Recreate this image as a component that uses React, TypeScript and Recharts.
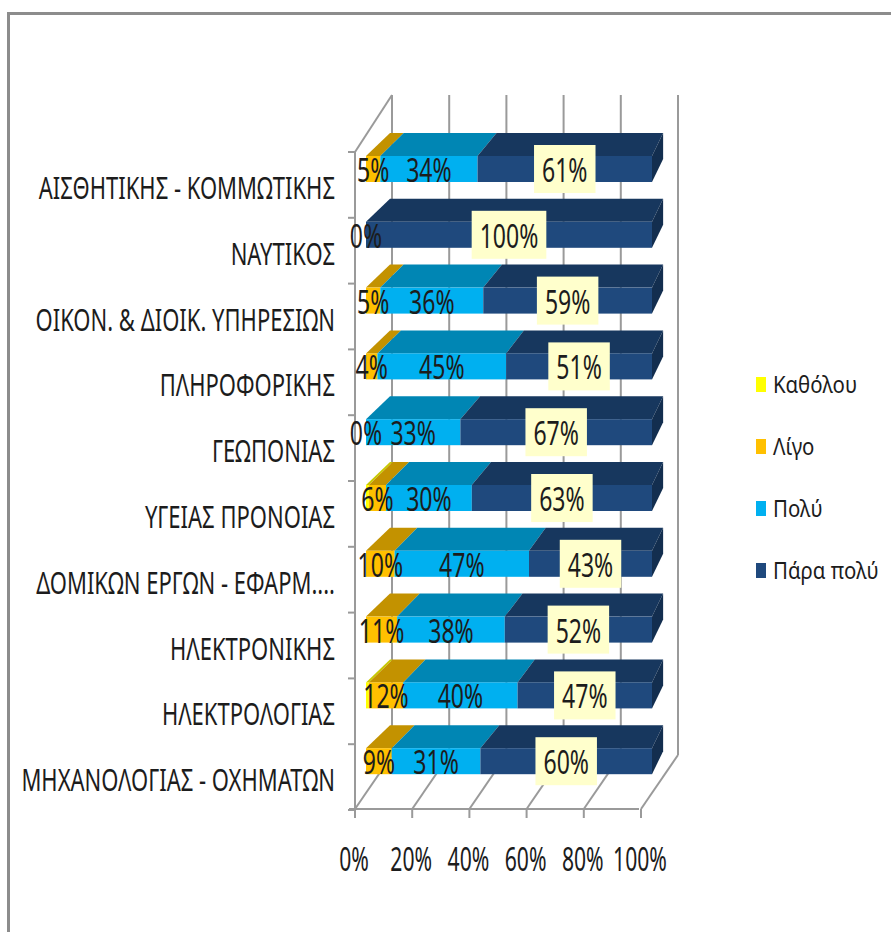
import React from "react";
import { BarChart, Bar, XAxis, YAxis, CartesianGrid, Legend, LabelList } from "recharts";

// Δεδομένα (ποσοστά ανά ειδικότητα)
const categories = [
  "ΑΙΣΘΗΤΙΚΗΣ - ΚΟΜΜΩΤΙΚΗΣ",
  "ΝΑΥΤΙΚΟΣ",
  "ΟΙΚΟΝ. & ΔΙΟΙΚ. ΥΠΗΡΕΣΙΩΝ",
  "ΠΛΗΡΟΦΟΡΙΚΗΣ",
  "ΓΕΩΠΟΝΙΑΣ",
  "ΥΓΕΙΑΣ ΠΡΟΝΟΙΑΣ",
  "ΔΟΜΙΚΩΝ ΕΡΓΩΝ - ΕΦΑΡΜ....",
  "ΗΛΕΚΤΡΟΝΙΚΗΣ",
  "ΗΛΕΚΤΡΟΛΟΓΙΑΣ",
  "ΜΗΧΑΝΟΛΟΓΙΑΣ - ΟΧΗΜΑΤΩΝ",
];
const katholou = [0, 0, 0, 0, 0, 1, 0, 0, 1, 0];
const ligo = [5, 0, 5, 4, 0, 6, 10, 11, 12, 9];
const poly = [34, 0, 36, 45, 33, 30, 47, 38, 40, 31];
const paraPoly = [61, 100, 59, 51, 67, 63, 43, 52, 47, 60];
const seriesNames = ["Καθόλου", "Λίγο", "Πολύ", "Πάρα πολύ"];
const xTicks = [0, 0.2, 0.4, 0.6, 0.8, 1];

const data = categories.map((name, i) => ({
  name,
  k: katholou[i],
  l: ligo[i],
  p: poly[i],
  pp: paraPoly[i],
}));

const W = 891;
const H = 932;
const Y_AXIS_W = 366;
const MARGIN = { top: 136, right: 239, bottom: 108, left: 0 };
const X_AXIS_H = 30;
const PLOT_LEFT = MARGIN.left + Y_AXIS_W;
const PLOT_W = W - PLOT_LEFT - MARGIN.right;
const PLOT_H = H - MARGIN.top - MARGIN.bottom - X_AXIS_H;
const HALF_BAND = PLOT_H / categories.length / 2;

const FONT = "'Noto Sans', 'DejaVu Sans', sans-serif";
const GRID = "#9a9a9a";
const TXT = "#1c1c1c";
const FACE = ["#FFFF00", "#FFC000", "#00B0F0", "#1F497D"];
const TOP = ["#C8C800", "#C39200", "#0086B4", "#17375E"];
const SIDE = "#132E4F";
const DEPTH = 23;

// πίσω ακμή με λίγη προοπτική
const backX = (X: number) => X + 24 - 0.045 * (X - PLOT_LEFT);

const Box3D = (props: any) => {
  const { x, y, width, height, face, top, side } = props;
  if (!width || width <= 0) return <g />;
  const x2 = x + width;
  const b1 = backX(x);
  const b2 = backX(x2);
  return (
    <g>
      <polygon points={`${x},${y} ${x2},${y} ${b2},${y - DEPTH} ${b1},${y - DEPTH}`} fill={top} />
      <rect x={x} y={y} width={width} height={height} fill={face} />
      {side && (
        <polygon
          points={`${x2},${y} ${b2},${y - DEPTH} ${b2},${y + height - DEPTH} ${x2},${y + height}`}
          fill={side}
        />
      )}
    </g>
  );
};

// τοίχοι / πάτωμα / γραμμές πλέγματος
const gridLine = (p: any) => {
  const { x1, y1, y2, index } = p;
  const bx = x1 + 26;
  const topY = y1 - 41;
  const backBottom = y2 - 39;
  const fx = x1 - 11;
  const fy = y2 + 15;
  const w = typeof p.width === "number" ? p.width : PLOT_W;
  const s = { stroke: GRID, strokeWidth: 2 };
  return (
    <g key={`grid-${index}`}>
      <line x1={bx} y1={topY} x2={bx} y2={backBottom} {...s} />
      <line x1={bx} y1={backBottom} x2={fx} y2={fy} {...s} />
      <line x1={fx} y1={fy} x2={fx} y2={fy + 9} {...s} />
      {index === 0 && (
        <g>
          <line x1={fx} y1={y1 + 16} x2={fx} y2={fy} {...s} />
          <line x1={fx} y1={y1 + 16} x2={bx} y2={topY} {...s} />
          <line x1={fx - 6} y1={fy} x2={fx + w - 2} y2={fy} {...s} />
        </g>
      )}
    </g>
  );
};

const CatTick = (p: any) => {
  const { x, y, payload, index } = p;
  const wx = x - 11;
  const tY = y + 16 - HALF_BAND;
  return (
    <g>
      <line x1={wx - 7} y1={tY} x2={wx} y2={tY} stroke={GRID} strokeWidth={2} />
      {index === categories.length - 1 && (
        <line x1={wx - 7} y1={y + 16 + HALF_BAND} x2={wx} y2={y + 16 + HALF_BAND} stroke={GRID} strokeWidth={2} />
      )}
      <text
        transform={`translate(${x - 31},${y + 30}) scale(0.71,1)`}
        textAnchor="end"
        fontSize={31}
        fontFamily={FONT}
        fill={TXT}
      >
        {payload.value}
      </text>
    </g>
  );
};

const PctTick = (p: any) => (
  <text
    transform={`translate(${p.x - 12},${p.y + 77}) scale(0.64,1)`}
    textAnchor="middle"
    fontSize={33}
    fontFamily={FONT}
    fill={TXT}
  >
    {Math.round(p.payload.value * 100)}%
  </text>
);

const rectOf = (p: any) => {
  const vb = p.viewBox && typeof p.viewBox.x === "number" ? p.viewBox : p;
  return { x: vb.x, y: vb.y, width: vb.width, height: vb.height };
};

const PctText = ({ cx, base, value }: { cx: number; base: number; value: number }) => (
  <text
    transform={`translate(${cx},${base}) scale(0.72,1)`}
    textAnchor="middle"
    fontSize={32}
    fontFamily={FONT}
    fill={TXT}
  >
    {value}%
  </text>
);

const plainLabel = (skipZero: boolean) => (p: any) => {
  const v = Number(p.value);
  if (skipZero && !v) return null;
  const r = rectOf(p);
  return <PctText key={`l-${p.index}`} cx={r.x + r.width / 2} base={r.y + r.height / 2 + 13} value={v} />;
};

// ετικέτα σε πλαίσιο για το «Πάρα πολύ»· αν το «Λίγο» είναι 0, γράφει και το 0% στην αρχή της μπάρας
const boxLabel = (p: any) => {
  const v = Number(p.value);
  const r = rectOf(p);
  const cx = r.x + r.width / 2;
  const cy = r.y + r.height / 2;
  const txt = `${v}%`;
  const tw = ((txt.length - 1) * 0.572 + 0.83) * 32 * 0.72;
  const bw = tw + 16;
  const row = data[p.index];
  let zero = null;
  if (row && row.pp === v && row.l === 0) {
    const before = row.k + row.l + row.p;
    const left = r.x - (r.width * before) / row.pp;
    zero = <PctText cx={left} base={cy + 13} value={0} />;
  }
  return (
    <g key={`b-${p.index}`}>
      <rect x={cx - bw / 2} y={cy - 24} width={bw} height={48} fill="#FFFFCC" />
      <text
        transform={`translate(${cx},${cy + 13}) scale(0.72,1)`}
        textAnchor="middle"
        fontSize={32}
        fontFamily={FONT}
        fill={TXT}
      >
        {txt}
      </text>
      {zero}
    </g>
  );
};

const LegendBox = (props: any) => {
  const fromPayload = (props.payload || []).map((e: any) => ({ name: e.value, color: e.color }));
  const items = seriesNames.map((n, i) => {
    const hit = fromPayload.find((e: any) => e.name === n);
    return { name: n, color: hit ? hit.color : FACE[i] };
  });
  return (
    <svg width={141} height={240}>
      {items.map((it: any, i: number) => {
        const cy = 24 + i * 62;
        return (
          <g key={it.name}>
            <rect x={6} y={cy - 7} width={10} height={15} fill={it.color} />
            <text
              transform={`translate(23,${cy + 9}) scale(0.85,1)`}
              fontSize={24}
              fontFamily={FONT}
              fill={TXT}
            >
              {it.name}
            </text>
          </g>
        );
      })}
    </svg>
  );
};

const keys = ["k", "l", "p", "pp"];

export default function App() {
  return (
    <div style={{ position: "absolute", left: 0, top: 0, width: W, height: H, background: "#fff", overflow: "hidden" }}>
      <div
        style={{
          position: "absolute",
          left: 7,
          top: 12,
          width: W,
          height: H,
          borderTop: "3px solid #8c8c8c",
          borderLeft: "3px solid #8c8c8c",
        }}
      />
      <div style={{ position: "absolute", left: 0, top: 0 }}>
        <BarChart width={W} height={H} data={data} layout="vertical" margin={MARGIN} stackOffset="expand">
          <CartesianGrid horizontal={false} vertical={gridLine} />
          <XAxis
            type="number"
            domain={[0, 1]}
            ticks={xTicks}
            height={X_AXIS_H}
            axisLine={false}
            tickLine={false}
            tickSize={0}
            tickMargin={0}
            tick={PctTick}
            interval={0}
          />
          <YAxis
            type="category"
            dataKey="name"
            width={Y_AXIS_W}
            axisLine={false}
            tickLine={false}
            tickSize={0}
            tickMargin={0}
            tick={CatTick}
            interval={0}
          />
          {keys.map((k, i) => (
            <Bar
              key={k}
              dataKey={k}
              name={seriesNames[i]}
              stackId="a"
              barSize={26}
              fill={FACE[i]}
              isAnimationActive={false}
              shape={(p: any) => (
                <Box3D {...p} face={FACE[i]} top={TOP[i]} side={i === 3 ? SIDE : undefined} />
              )}
            />
          ))}
          <Legend
            layout="vertical"
            align="center"
            verticalAlign="middle"
            wrapperStyle={{ position: "absolute", left: 750, top: 360, width: 141, height: 240 }}
            content={LegendBox}
          />
        </BarChart>
      </div>
      {/* ετικέτες πάνω από όλες τις μπάρες */}
      <div style={{ position: "absolute", left: 0, top: 0 }}>
        <BarChart width={W} height={H} data={data} layout="vertical" margin={MARGIN} stackOffset="expand">
          <XAxis type="number" domain={[0, 1]} ticks={xTicks} height={X_AXIS_H} tick={false} axisLine={false} tickLine={false} />
          <YAxis type="category" dataKey="name" width={Y_AXIS_W} tick={false} axisLine={false} tickLine={false} />
          {keys.map((k, i) => (
            <Bar key={k} dataKey={k} stackId="a" barSize={26} fill="none" isAnimationActive={false}>
              {i === 1 && <LabelList dataKey={k} content={plainLabel(false)} />}
              {i === 2 && <LabelList dataKey={k} content={plainLabel(true)} />}
              {i === 3 && <LabelList dataKey={k} content={boxLabel} />}
            </Bar>
          ))}
        </BarChart>
      </div>
    </div>
  );
}
